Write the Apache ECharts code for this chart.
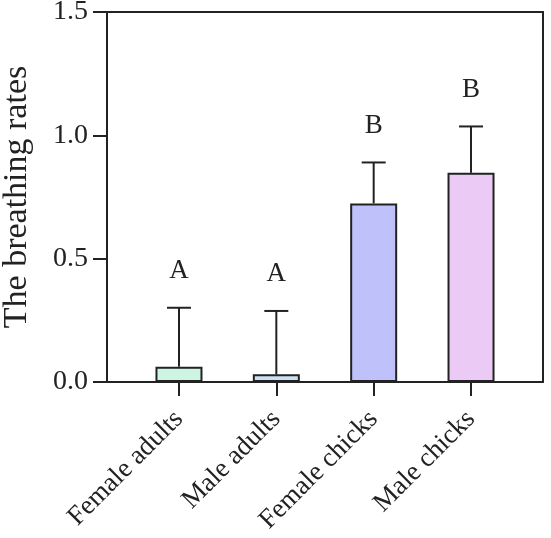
<!DOCTYPE html>
<html><head><meta charset="utf-8">
<script src="https://cdn.jsdelivr.net/npm/echarts@6/dist/echarts.min.js"></script>
<style>html,body{margin:0;padding:0;background:#fff}#c{width:551px;height:538px}</style>
</head><body><div id="c"></div>
<script>
var categories = ['Female adults', 'Male adults', 'Female chicks', 'Male chicks'];
var means = [0.062, 0.031, 0.724, 0.848];
var sds = [0.239, 0.257, 0.166, 0.188];
var letters = ['A', 'A', 'B', 'B'];
var yTicks = [0, 0.5, 1.0, 1.5];
var colors = ['#cdf5e3', '#cde0f6', '#bfc2fa', '#ebcaf6'];

var FONT = "'Liberation Serif','Times New Roman',serif";
var INK = '#222';
var chart = echarts.init(document.getElementById('c'), null, {renderer: 'canvas'});
var errData = means.map(function (m, i) { return [i, m, m + sds[i]]; });

chart.setOption({
  animation: false,
  backgroundColor: '#fff',
  grid: [
    {left: 107, right: 8, top: 12, bottom: 156, containLabel: false, outerBoundsMode: 'none'},
    {left: 130.3, right: 31.3, top: 12, bottom: 156, containLabel: false, outerBoundsMode: 'none'}
  ],
  xAxis: [
    {gridIndex: 0, type: 'value', min: 0, max: 1, position: 'bottom',
      axisLine: {show: true, onZero: false, lineStyle: {color: INK, width: 2}},
      axisTick: {show: false}, axisLabel: {show: false}, splitLine: {show: false}},
    {gridIndex: 0, type: 'value', min: 0, max: 1, position: 'top',
      axisLine: {show: true, onZero: false, lineStyle: {color: INK, width: 2}},
      axisTick: {show: false}, axisLabel: {show: false}, splitLine: {show: false}},
    {gridIndex: 1, type: 'category', data: categories, boundaryGap: true,
      axisLine: {show: false},
      axisTick: {show: true, alignWithLabel: true, length: 14, lineStyle: {color: INK, width: 2}},
      axisLabel: {interval: 0, rotate: 45, margin: 33, fontFamily: FONT, fontSize: 27, color: INK},
      splitLine: {show: false}}
  ],
  yAxis: [
    {gridIndex: 0, type: 'value', min: 0, max: 1.5, interval: 0.5, position: 'left',
      name: 'The breathing rates', nameLocation: 'middle', nameGap: 73,
      nameTextStyle: {fontFamily: FONT, fontSize: 34, color: INK},
      axisLine: {show: true, onZero: false, lineStyle: {color: INK, width: 2}},
      axisTick: {show: true, length: 14, lineStyle: {color: INK, width: 2}},
      axisLabel: {margin: 19, fontFamily: FONT, fontSize: 28, color: INK,
        formatter: function (v) { return yTicks.indexOf(v) >= 0 ? v.toFixed(1) : ''; }},
      splitLine: {show: false}},
    {gridIndex: 0, type: 'value', min: 0, max: 1.5, position: 'right',
      axisLine: {show: true, onZero: false, lineStyle: {color: INK, width: 2}},
      axisTick: {show: false}, axisLabel: {show: false}, splitLine: {show: false}},
    {gridIndex: 1, type: 'value', min: 0, max: 1.5, show: false}
  ],
  series: [
    {type: 'bar', xAxisIndex: 2, yAxisIndex: 2, barWidth: 47,
      data: means.map(function (m, i) {
        return {value: m, itemStyle: {color: colors[i], borderColor: INK, borderWidth: 2}};
      }), z: 2},
    {type: 'custom', xAxisIndex: 2, yAxisIndex: 2, z: 3, data: errData,
      renderItem: function (params, api) {
        var i = api.value(0);
        var base = api.coord([i, api.value(1)]);
        var top = api.coord([i, api.value(2)]);
        var cap = 12;
        return {type: 'group', children: [
          {type: 'line', shape: {x1: top[0], y1: base[1], x2: top[0], y2: top[1]}, style: {stroke: INK, lineWidth: 2}},
          {type: 'line', shape: {x1: top[0] - cap, y1: top[1], x2: top[0] + cap, y2: top[1]}, style: {stroke: INK, lineWidth: 2}},
          {type: 'text', x: top[0], y: top[1] - 37, style: {text: letters[i], font: '27px ' + FONT, fill: INK, align: 'center', verticalAlign: 'middle'}}
        ]};
      }}
  ]
});
</script></body></html>
